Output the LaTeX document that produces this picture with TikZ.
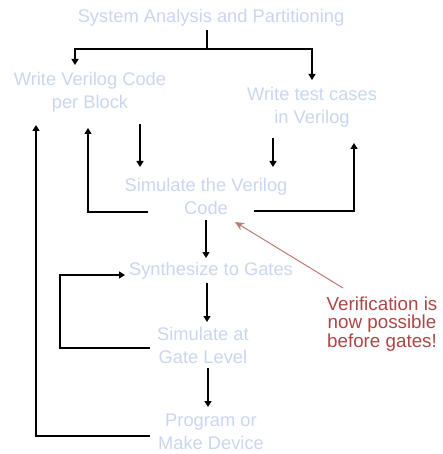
\documentclass[tikz,border=0pt]{standalone}
\usepackage{fontspec}
\setmainfont{Liberation Sans}
\usetikzlibrary{arrows.meta}
\definecolor{lblue}{RGB}{202,214,240}
\definecolor{dred}{RGB}{172,70,70}
\definecolor{ared}{RGB}{192,120,115}
\tikzset{
  lbl/.style={text=lblue, align=center, inner sep=0pt, font=\fontsize{18.3}{23}\selectfont},
  note/.style={text=dred, align=center, inner sep=0pt, font=\fontsize{18.8}{18.5}\selectfont},
  conn/.style={line width=1.3pt, draw=black},
  arr/.style={conn, -{Triangle[length=6pt,width=7pt]}},
  redarr/.style={line width=1pt, draw=ared, -{Stealth[length=9pt,width=8pt]}}
}
\begin{document}
\begin{tikzpicture}[x=1pt,y=-1pt]
\useasboundingbox (0,0) rectangle (442,454);
\node[lbl] (sys) at (211,18) {System Analysis and Partitioning};
\node[lbl] (wv) at (90,92) {Write Verilog Code\\per Block};
\node[lbl] (wt) at (312,107) {Write test cases\\in Verilog};
\node[lbl] (sim) at (206,196) {Simulate the Verilog\\Code};
\node[lbl] (syn) at (211,271) {Synthesize to Gates};
\node[lbl] (sg) at (203,345) {Simulate at\\Gate Level};
\node[lbl] (prog) at (211,432) {Program or\\Make Device};
\node[note] (ver) at (382,324) {Verification is\\now possible\\before gates!};
% coordinates
\coordinate (s0) at (207,30);
\coordinate (split) at (207,49);
\coordinate (wvin) at (75,65);
\coordinate (wtin) at (312,80);
\coordinate (wvo) at (140,124);
\coordinate (wto) at (273,138);
\coordinate (simin1) at (140,167);
\coordinate (simin2) at (273,167);
\coordinate (simL) at (148,212);
\coordinate (simR) at (254,211);
\coordinate (wvup) at (88,128);
\coordinate (wtup) at (354,143);
\coordinate (simo) at (206,220);
\coordinate (synin) at (206,258);
\coordinate (synL) at (125,275);
\coordinate (syno) at (207,283);
\coordinate (sgin) at (207,322);
\coordinate (sgL) at (150,348);
\coordinate (sgo) at (208,368);
\coordinate (progin) at (208,407);
\coordinate (progL) at (150,436);
\coordinate (wvup2) at (36,125);
\coordinate (vtail) at (343,288);
\coordinate (vtip) at (235,222);
% connectors
\draw[conn] (s0) -- (split);
\draw[arr] (split) -| (wvin);
\draw[arr] (split) -| (wtin);
\draw[arr] (wvo) -- (simin1);
\draw[arr] (wto) -- (simin2);
\draw[arr] (simL) -| (wvup);
\draw[arr] (simR) -| (wtup);
\draw[arr] (simo) -- (synin);
\draw[arr] (sgL) -| (60,275) -- (synL);
\draw[arr] (syno) -- (sgin);
\draw[arr] (sgo) -- (progin);
\draw[arr] (progL) -| (wvup2);
\draw[redarr] (vtail) -- (vtip);
\end{tikzpicture}
\end{document}
